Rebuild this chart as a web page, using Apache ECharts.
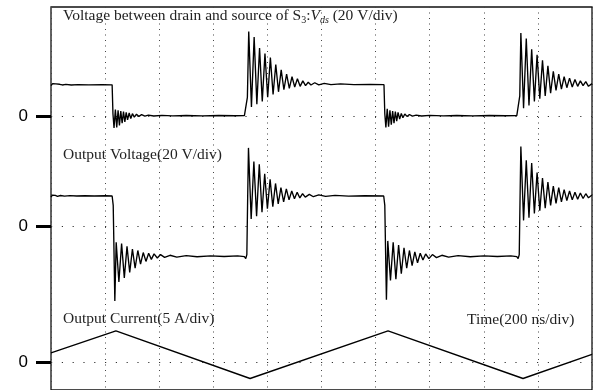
<!DOCTYPE html>
<html>
<head>
<meta charset="utf-8">
<script src="https://cdn.jsdelivr.net/npm/echarts@6/dist/echarts.min.js"></script>
<style>
  html, body { margin: 0; padding: 0; background: #fff; }
  #chart { width: 597px; height: 390px; }
</style>
</head>
<body>
<div id="chart"></div>
<script>
// time in ns (200 ns/div), voltages in V (20 V/div), current in A (5 A/div)
var timeTicks = [0, 200, 400, 600, 800, 1000, 1200, 1400, 1600, 1800, 2000];
var zeroLabels = ['0', '0', '0'];

// drain-source voltage of S3
var vdsData = [
  [0,22.5],[6,24],[12,22.6],[18,23.8],[24,22.8],[32,23.5],[42,23],[55,23.4],[75,23],[100,23.3],[140,23.1],[190,23.2],[226,23.1],
  [229,2],[233,-8.5],[238,5],[243,-8],[248,4.5],[253,-6.5],[258,4],[263,-5],[268,3.5],[273,-4],[278,3],[283,-2.5],[289,2.5],[295,-1.5],[301,2],[308,-0.5],[316,1.6],[325,0],[335,1.3],[347,0.2],[360,1],[380,0.3],[410,0.8],[450,0.4],[500,0.7],[560,0.4],[620,0.7],[680,0.5],[715,0.6],[721,1.5],
  [726,14],[731,62],[741,7],[751,58],[761,9],[771,50],[781,11],[791,46],[801,14],[811,43],[821,16],[831,38],[841,18],[851,34],[861,19.5],[871,31],[881,20.5],[891,29],[901,21.5],[911,27.5],[921,22],[931,26],[941,22.5],[951,25],[961,23],[975,24.6],[990,23],[1010,24.2],[1035,23.2],[1070,23.8],[1120,23.2],[1180,23.4],[1231,23.2],
  [1234,2],[1238,-8],[1243,5.5],[1248,-7.5],[1253,4.5],[1258,-6],[1263,4],[1268,-5],[1273,3.5],[1278,-3.5],[1283,3],[1289,-2],[1295,2.2],[1301,-1],[1308,1.8],[1316,0],[1325,1.4],[1336,0.2],[1350,1],[1370,0.3],[1400,0.8],[1450,0.4],[1500,0.7],[1560,0.4],[1620,0.7],[1680,0.5],[1722,0.6],[1729,1.8],
  [1733,15],[1737,61],[1747,6],[1757,57],[1767,8],[1777,49],[1787,11],[1797,45],[1807,13],[1817,41],[1827,15],[1837,37],[1847,17],[1857,33],[1867,19],[1877,31],[1887,20],[1897,29],[1907,21],[1917,28],[1927,21.5],[1937,27],[1947,22],[1957,26],[1967,22.5],[1977,25.5],[1987,22],[2000,24]
];

// output voltage
var voutData = [
  [0,21],[5,22.5],[10,21.3],[16,22.3],[24,21.6],[35,22.2],[50,21.7],[70,22.1],[95,21.8],[125,22],[160,21.8],[200,22],[226,21.8],
  [230,15],[233,-20],[236,-55],[241,-12],[251,-41],[261,-13],[271,-38],[281,-15],[291,-34],[301,-17],[311,-31],[321,-18],[331,-28],[341,-19.5],[351,-26],[361,-20],[371,-24.5],[381,-20.5],[393,-23.5],[405,-21],[420,-23],[440,-21.5],[465,-22.8],[500,-21.8],[540,-22.6],[590,-22],[640,-22.4],[690,-22],[715,-22.5],[720,-24],[724,-21],
  [727,20],[730,57],[740,5],[750,47],[760,7],[770,45],[780,10],[790,38],[800,12.5],[810,34],[820,14],[830,31],[840,16],[850,28],[860,17.5],[870,27],[880,19],[890,25.5],[900,19.8],[910,24.5],[920,20.4],[930,23.5],[940,21],[955,23],[970,21.3],[990,22.6],[1015,21.5],[1050,22.3],[1100,21.7],[1160,22],[1230,21.8],
  [1234,15],[1237,-20],[1240,-54],[1245,-11],[1255,-40],[1265,-12],[1275,-39],[1285,-14],[1295,-35],[1305,-16],[1315,-31],[1325,-18],[1335,-29],[1345,-19],[1355,-27],[1365,-20],[1375,-25],[1385,-20.5],[1397,-24],[1410,-21],[1425,-23.2],[1445,-21.5],[1470,-22.8],[1505,-21.8],[1550,-22.6],[1600,-22],[1650,-22.4],[1700,-22],[1722,-22.5],[1727,-24],[1731,-21],
  [1734,20],[1737,58],[1747,4],[1757,48],[1767,6],[1777,46],[1787,9],[1797,39],[1807,11],[1817,35],[1827,13],[1837,32],[1847,15],[1857,29],[1867,16.5],[1877,28],[1887,17.5],[1897,26.5],[1907,18.5],[1917,25.5],[1927,19],[1937,24.5],[1947,19.5],[1957,24],[1967,20],[1977,23.5],[1987,20.5],[2000,22.5]
];

// output current
var ioutData = [[0,1.8],[240,5.8],[736,-2.9],[1246,5.8],[1745,-2.9],[2000,1.5]];

// each trace sits on its own zero level, in screen divisions from the bottom
var traces = [
  { name: 'Vds', data: vdsData, zero: 10, perDiv: 20 },
  { name: 'Vout', data: voutData, zero: 6, perDiv: 20 },
  { name: 'Iout', data: ioutData, zero: 1, perDiv: 5 }
];
var zeroLevels = traces.map(function (t) { return t.zero; });

var serif = '"Liberation Serif", "Times New Roman", serif';

var option = {
  animation: false,
  backgroundColor: '#fff',
  grid: {
    left: 51, top: 7, width: 541, height: 385,
    show: true, borderColor: '#111', borderWidth: 1.3
  },
  xAxis: {
    type: 'value',
    min: timeTicks[0], max: timeTicks[timeTicks.length - 1], interval: 200,
    axisLine: { show: false }, axisTick: { show: false }, axisLabel: { show: false },
    splitLine: { show: true, lineStyle: { color: '#444', width: 1, type: [1, 4.5] } }
  },
  yAxis: {
    type: 'value',
    min: 0, max: 14, interval: 1,
    axisLine: { show: false },
    axisTick: {
      show: true, customValues: zeroLevels, length: 15,
      lineStyle: { color: '#000', width: 3 }
    },
    axisLabel: {
      show: true, customValues: zeroLevels, margin: 23,
      formatter: function (v) { return zeroLabels[zeroLevels.indexOf(v)] || ''; },
      color: '#000', fontSize: 17, fontFamily: '"Liberation Sans", Arial, sans-serif'
    },
    splitLine: { show: true, lineStyle: { color: '#333', width: 1, type: [1.2, 9.6] } }
  },
  graphic: [
    {
      type: 'text', left: 63, top: 8,
      style: {
        text: '{n|Voltage between drain and source of S}{sub|3}{n|:}{i|V}{isub|ds}{n| (20 V/div)}',
        rich: {
          n: { fontSize: 15.5, fontFamily: serif, fill: '#222', lineHeight: 18 },
          sub: { fontSize: 10, fontFamily: serif, fill: '#222', verticalAlign: 'bottom', lineHeight: 18 },
          i: { fontSize: 15.5, fontFamily: serif, fontStyle: 'italic', fill: '#222', lineHeight: 18 },
          isub: { fontSize: 10, fontFamily: serif, fontStyle: 'italic', fill: '#222', verticalAlign: 'bottom', lineHeight: 18 }
        }
      }
    },
    { type: 'text', left: 63, top: 147, style: { text: 'Output Voltage(20 V/div)', font: '15.5px ' + serif, fill: '#222' } },
    { type: 'text', left: 63, top: 311, style: { text: 'Output Current(5 A/div)', font: '15.5px ' + serif, fill: '#222' } },
    { type: 'text', left: 467, top: 312, style: { text: 'Time(200 ns/div)', font: '15.5px ' + serif, fill: '#222' } }
  ],
  series: traces.map(function (t) {
    return {
      name: t.name,
      type: 'line',
      showSymbol: false,
      symbol: 'none',
      lineStyle: { color: '#000', width: 1.35 },
      data: t.data.map(function (p) { return [p[0], t.zero + p[1] / t.perDiv]; })
    };
  })
};

var myChart = echarts.init(document.getElementById('chart'));
myChart.setOption(option, true);
</script>
</body>
</html>
